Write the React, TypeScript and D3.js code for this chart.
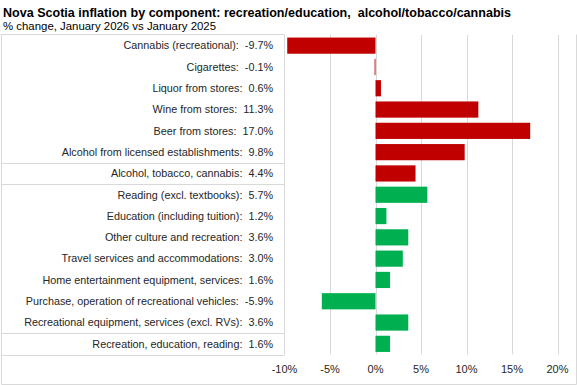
import React, { useEffect, useRef } from "react"
import * as d3 from "d3"

const title = "Nova Scotia inflation by component: recreation/education,  alcohol/tobacco/cannabis"
const subtitle = "% change, January 2026 vs January 2025"

const categories = [
    "Cannabis (recreational)",
    "Cigarettes",
    "Liquor from stores",
    "Wine from stores",
    "Beer from stores",
    "Alcohol from licensed establishments",
    "Alcohol, tobacco, cannabis",
    "Reading (excl. textbooks)",
    "Education (including tuition)",
    "Other culture and recreation",
    "Travel services and accommodations",
    "Home entertainment equipment, services",
    "Purchase, operation of recreational vehicles",
    "Recreational equipment, services (excl. RVs)",
    "Recreation, education, reading",
]
const values = [-9.7, -0.1, 0.6, 11.3, 17.0, 9.8, 4.4, 5.7, 1.2, 3.6, 3.0, 1.6, -5.9, 3.6, 1.6]
const groups = ["alc", "alc", "alc", "alc", "alc", "alc", "alc", "rec", "rec", "rec", "rec", "rec", "rec", "rec", "rec"]
const ticks = [-10, -5, 0, 5, 10, 15, 20]
// rows after which a separator line is drawn in the label column
const separators = [5, 6, 13, 14]

const colors = { alc: "#C00000", rec: "#00B050" }
const font = "'Liberation Sans', Arial, sans-serif"
const fmt = d3.formatLocale({ decimal: ".", thousands: ",", grouping: [3], currency: ["", ""], minus: "-" }).format(".1f")

export default function App() {
    const ref = useRef(null)

    useEffect(() => {
        const svg = d3.select(ref.current)
        svg.selectAll("*").remove()
        const width = 577
        const height = 385
        const labelRight = 284
        const top = 35
        const bottom = 354.5

        const xScale = d3.scaleLinear().domain([-10, 20]).range([284.5, 557.5])
        const yScale = d3.scaleBand().domain(categories).range([top, bottom]).paddingInner(0.24).paddingOuter(0.12)
        const rowScale = d3.scaleBand().domain(categories).range([top, bottom])

        svg.append("rect").attr("width", width).attr("height", height).attr("fill", "white")

        svg.append("text").attr("x", 3).attr("y", 17).attr("font-family", font).attr("font-weight", "bold")
            .attr("font-size", 13.5).attr("fill", "#000")
            .attr("textLength", 508).attr("lengthAdjust", "spacingAndGlyphs")
            .attr("xml:space", "preserve").text(title)
        svg.append("text").attr("x", 3).attr("y", 30).attr("font-family", font)
            .attr("font-size", 11.5).attr("fill", "#000")
            .attr("textLength", 213).attr("lengthAdjust", "spacingAndGlyphs").text(subtitle)

        // frame
        const frame = "#d9d9d9"
        svg.append("path")
            .attr("d", `M0.5,34.5H${labelRight + 0.5}M1.5,34.5V384.5H${width - 0.5}V34.5`)
            .attr("stroke", frame).attr("fill", "none")
        svg.append("line").attr("x1", labelRight + 0.5).attr("x2", labelRight + 0.5)
            .attr("y1", 34.5).attr("y2", bottom).attr("stroke", frame)
        svg.selectAll(".sep").data(separators).enter().append("line")
            .attr("x1", 1.5).attr("x2", labelRight + 0.5)
            .attr("y1", d => Math.round(rowScale(categories[d]) + rowScale.bandwidth()) + 0.5)
            .attr("y2", d => Math.round(rowScale(categories[d]) + rowScale.bandwidth()) + 0.5)
            .attr("stroke", frame)

        // gridlines
        svg.selectAll(".grid").data(ticks.slice(1)).enter().append("line")
            .attr("x1", d => Math.round(xScale(d)) + 0.5).attr("x2", d => Math.round(xScale(d)) + 0.5)
            .attr("y1", top).attr("y2", bottom)
            .attr("stroke", frame)

        // bars
        svg.selectAll(".bar").data(values).enter().append("rect")
            .attr("x", d => xScale(Math.min(0, d)))
            .attr("width", d => Math.abs(xScale(d) - xScale(0)))
            .attr("y", (d, i) => yScale(categories[i]))
            .attr("height", yScale.bandwidth())
            .attr("fill", (d, i) => colors[groups[i]])

        // category labels
        svg.selectAll(".lbl").data(categories).enter().append("text")
            .attr("x", 273).attr("y", d => rowScale(d) + rowScale.bandwidth() / 2)
            .attr("dy", "0.35em").attr("text-anchor", "end")
            .attr("font-family", font).attr("font-size", 10.8).attr("fill", "#262626")
            .attr("xml:space", "preserve")
            .text((d, i) => d + ":  " + fmt(values[i]) + "%")

        // axis labels
        svg.selectAll(".tick").data(ticks).enter().append("text")
            .attr("x", d => xScale(d)).attr("y", 369).attr("dy", "0.35em")
            .attr("text-anchor", "middle")
            .attr("font-family", font).attr("font-size", 11).attr("fill", "#262626")
            .text(d => d + "%")
    }, [])

    return <svg ref={ref} width={577} height={385} style={{ display: "block", position: "absolute", left: 0, top: 0 }} />
}
